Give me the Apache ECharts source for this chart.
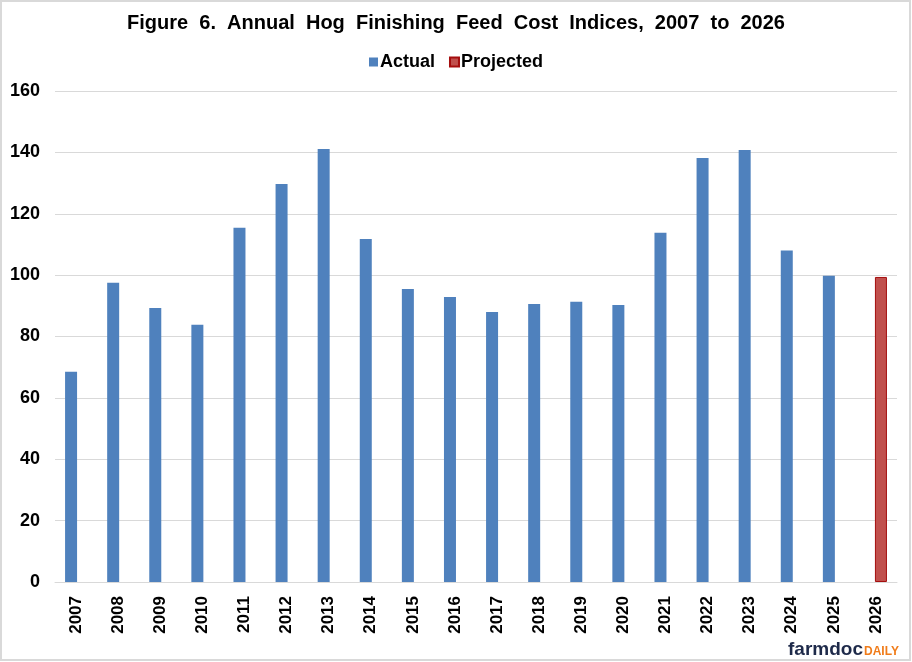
<!DOCTYPE html>
<html>
<head>
<meta charset="utf-8">
<script src="https://cdn.jsdelivr.net/npm/echarts@6/dist/echarts.min.js"></script>
<style>
  html, body { margin: 0; padding: 0; background: #fff; }
  #main { width: 912px; height: 662px; }
</style>
</head>
<body>
<div id="main"></div>
<script>
var years = ['2007', '2008', '2009', '2010', '2011', '2012', '2013', '2014', '2015', '2016',
             '2017', '2018', '2019', '2020', '2021', '2022', '2023', '2024', '2025', '2026'];
var actual = [68.5, 97.5, 89.3, 83.8, 115.4, 129.7, 141.1, 111.8, 95.5, 92.9,
              88.0, 90.6, 91.3, 90.3, 113.8, 138.2, 140.8, 108.0, 99.8, null];
var projected = [null, null, null, null, null, null, null, null, null, null,
                 null, null, null, null, null, null, null, null, null, 99.4];

var chart = echarts.init(document.getElementById('main'));
chart.setOption({
    animation: false,
    title: {
        text: 'Figure  6.  Annual  Hog  Finishing  Feed  Cost  Indices,  2007  to  2026',
        left: 'center',
        top: 8,
        textStyle: { fontFamily: 'Liberation Sans', fontWeight: 'bold', fontSize: 20, color: '#000' }
    },
    legend: {
        top: 48,
        left: 'center',
        icon: 'rect',
        itemWidth: 9,
        itemHeight: 9,
        itemGap: 14,
        textStyle: { fontFamily: 'Liberation Sans', fontWeight: 'bold', fontSize: 18, color: '#000', padding: [0, 0, 0, -3] },
        data: ['Actual', 'Projected']
    },
    grid: { left: 55, right: 15, top: 91, bottom: 80 },
    xAxis: {
        type: 'category',
        data: years,
        axisTick: { show: false },
        axisLine: { lineStyle: { color: '#d9d9d9', width: 1 } },
        axisLabel: {
            rotate: 90,
            margin: 14,
            fontFamily: 'Liberation Sans', fontWeight: 'bold', fontSize: 17, color: '#000'
        }
    },
    yAxis: {
        type: 'value',
        min: 0,
        max: 160,
        interval: 20,
        axisLine: { show: false },
        axisTick: { show: false },
        splitLine: { lineStyle: { color: '#d9d9d9', width: 1 } },
        axisLabel: {
            margin: 15,
            fontFamily: 'Liberation Sans', fontWeight: 'bold', fontSize: 18, color: '#000'
        }
    },
    series: [{
        name: 'Actual',
        type: 'bar',
        data: actual,
        barWidth: 12,
        barGap: '-17%',
        itemStyle: { color: '#4f81bd' }
    }, {
        name: 'Projected',
        type: 'bar',
        data: projected,
        barWidth: 12,
        itemStyle: { color: '#c0504d', borderColor: '#a50e0e', borderWidth: 1 }
    }],
    graphic: [{
        type: 'rect',
        silent: true,
        shape: { x: 1, y: 1, width: 909, height: 659 },
        style: { fill: 'none', stroke: '#d9d9d9', lineWidth: 2 }
    }, {
        type: 'text',
        left: 788,
        top: 640,
        style: { text: 'farmdoc', font: 'bold 19px "Liberation Sans"', fill: '#1e2a4a' }
    }, {
        type: 'text',
        left: 864,
        top: 646,
        style: { text: 'DAILY', font: 'bold 12px "Liberation Sans"', fill: '#f07c1a' }
    }]
});
</script>
</body>
</html>
